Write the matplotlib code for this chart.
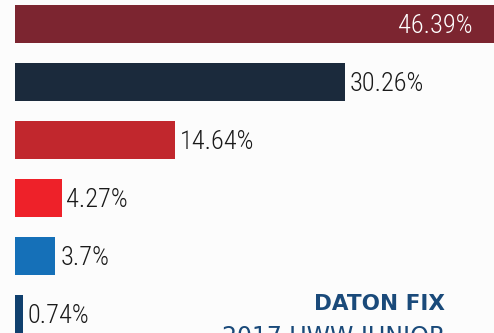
import matplotlib.pyplot as plt
from matplotlib import font_manager

values = [46.39, 30.26, 14.64, 4.27, 3.7, 0.74]
labels = ["46.39%", "30.26%", "14.64%", "4.27%", "3.7%", "0.74%"]
colors = ["#7c2530", "#1b2a3c", "#c1272d", "#ee2129", "#1570b8", "#10406e"]

installed = {f.name for f in font_manager.fontManager.ttflist}
narrow = [n for n in ["Roboto Condensed", "Liberation Sans Narrow", "DejaVu Sans Condensed"]
          if n in installed]
if narrow:
    label_font, label_size = narrow[0], 19
else:
    label_font, label_size = "Roboto", 16

plt.rcParams["font.family"] = [label_font, "DejaVu Sans"]

fig = plt.figure(figsize=(4.94, 3.33), dpi=100, facecolor="#fcfcfc")
ax = fig.add_axes([0, 0, 1, 1])
ax.set_facecolor("#fcfcfc")

pos = list(range(len(values)))
ax.barh(pos, values, height=0.655, color=colors)
ax.set_xlim(-1.376, 43.94)
ax.set_ylim(5.328, -0.414)

for i, (v, lab) in enumerate(zip(values, labels)):
    if i == 0:
        ax.text(42.0, i + 0.03, lab, color="white", fontsize=label_size, ha="right",
                va="center", fontweight="light")
    else:
        ax.text(v + 0.45, i + 0.03, lab, color="#1a1a1a", fontsize=label_size,
                ha="left", va="center", fontweight="light")

ax.axis("off")

fig.text(445 / 494, 1 - 304 / 333, "DATON FIX", color="#1a4a7a", fontsize=15.5,
         fontweight="bold", ha="right", va="center", family=["DejaVu Sans"])
fig.text(445 / 494, 1 - 337 / 333, "2017 UWW JUNIOR", color="#1a4a7a", fontsize=17,
         ha="right", va="center", family=["DejaVu Sans"])

fig.savefig("out.png", dpi=100, facecolor=fig.get_facecolor())
